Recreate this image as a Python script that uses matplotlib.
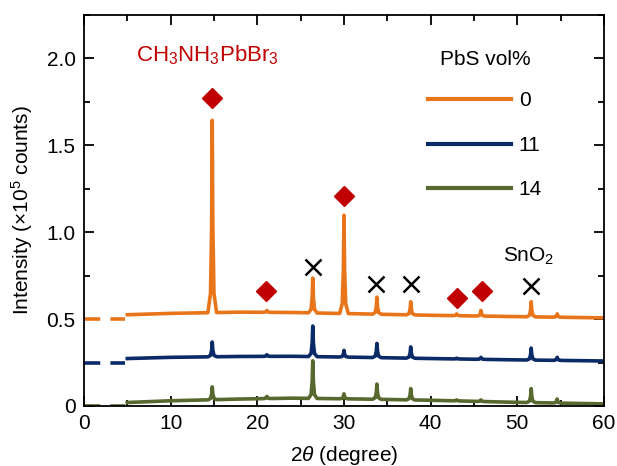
import matplotlib
matplotlib.use("Agg")
import matplotlib.pyplot as plt
import numpy as np

plt.rcParams['font.family'] = ['Liberation Sans', 'DejaVu Sans']
plt.rcParams['mathtext.fontset'] = 'custom'
plt.rcParams['mathtext.rm'] = 'Liberation Sans'
plt.rcParams['mathtext.it'] = 'Liberation Sans:italic'
plt.rcParams['font.size'] = 15

# PbS content of each trace
labels = ['0', '11', '14']
colors = ['#E8751A', '#0B2A68', '#57692E']

# baseline readings (2theta, intensity) for each trace
base_x = [5, 10, 18, 24, 32, 40, 49, 60]
base_0 = [0.525, 0.533, 0.54, 0.538, 0.53, 0.522, 0.515, 0.507]
base_11 = [0.273, 0.28, 0.285, 0.286, 0.28, 0.273, 0.266, 0.259]
base_14 = [0.02, 0.03, 0.04, 0.045, 0.04, 0.033, 0.022, 0.012]

# peak positions and peak tops
peak_x = [14.8, 21.1, 26.4, 30.0, 33.8, 37.7, 43.0, 45.8, 51.6, 54.6]
top_0 = [1.644, 0.55, 0.736, 1.098, 0.626, 0.60, 0.53, 0.55, 0.60, 0.53]
top_11 = [0.368, 0.295, 0.46, 0.32, 0.36, 0.34, 0.275, 0.28, 0.333, 0.28]
top_14 = [0.11, 0.055, 0.26, 0.07, 0.126, 0.10, 0.035, 0.035, 0.10, 0.04]

# dashed lead-in to the y axis (offset of each trace)
dash_x = [0, 4.7]
offsets = [0.5, 0.25, 0.0]

# phase markers
perov_x = [14.8, 21.0, 30.0, 43.0, 45.9]
perov_y = [1.77, 0.66, 1.21, 0.62, 0.66]
sno2_x = [26.4, 33.7, 37.7, 51.6]
sno2_y = [0.80, 0.70, 0.70, 0.69]

# peak profile points (offset in degrees, fraction of peak height)
prof_dx = [-0.5, -0.2, -0.07, 0.0, 0.07, 0.2, 0.5]
prof_f = [0.0, 0.1, 0.45, 1.0, 0.45, 0.1, 0.0]


def trace(base, tops):
    xs = list(base_x)
    fr = [0.0] * len(base_x)
    pk = [0.0] * len(base_x)
    for p, t in zip(peak_x, tops):
        for dx, f in zip(prof_dx, prof_f):
            xs.append(p + dx)
            fr.append(f)
            pk.append(t)
    order = np.argsort(xs)
    xs = np.array(xs)[order]
    fr = np.array(fr)[order]
    pk = np.array(pk)[order]
    b = np.interp(xs, base_x, base)
    return xs, b + fr * (pk - b)


fig = plt.figure(figsize=(6.17, 4.66), dpi=100)
ax = fig.add_axes([0.1361, 0.1288, 0.8428, 0.839])

series = [(base_0, top_0), (base_11, top_11), (base_14, top_14)]
for (b, t), lab, c, off in zip(series, labels, colors, offsets):
    x, y = trace(b, t)
    ax.plot(x, y, color=c, lw=2.6, label=lab, solid_joinstyle='round')
    ax.plot(dash_x, [off, off], color=c, lw=2.6, dashes=(4.5, 2.8))

ax.plot(perov_x, perov_y, 'D', color='#C00000', ms=10.5, ls='none')
ax.plot(sno2_x, sno2_y, 'x', color='black', ms=11.5, mew=1.8, ls='none')

ax.text(6.0, 2.02, r'CH$_3$NH$_3$PbBr$_3$', color='#C00000', fontsize=16,
        ha='left', va='center')
ax.text(48.3, 0.86, r'SnO$_2$', color='black', fontsize=15, ha='left', va='center')

ax.set_xlim(0, 60)
ax.set_ylim(0, 2.25)
ax.set_xticks([0, 10, 20, 30, 40, 50, 60])
ax.set_xticks(np.arange(0, 61, 5), minor=True)
ax.set_yticks([0, 0.5, 1.0, 1.5, 2.0])
ax.set_yticklabels(['0', '0.5', '1.0', '1.5', '2.0'])
ax.set_yticks(np.arange(0, 2.26, 0.25), minor=True)
ax.tick_params(which='both', direction='in', top=True, right=True, width=1.3)
ax.tick_params(which='major', length=7, pad=6)
ax.tick_params(which='minor', length=4)
for s in ax.spines.values():
    s.set_linewidth(1.3)

ax.set_xlabel(r'2$\mathit{\theta}$ (degree)', labelpad=8)
ax.set_ylabel(r'Intensity ($\times$10$^5$ counts)', labelpad=8)

leg = ax.legend(title='PbS vol%', frameon=False, loc='upper left',
                bbox_to_anchor=(0.626, 0.958), handlelength=3.95, labelspacing=1.22,
                handletextpad=0.4, fontsize=15, title_fontsize=15)
leg._legend_box.sep = 16
for line in leg.get_lines():
    line.set_linewidth(3)

fig.savefig('out.png', dpi=100)
